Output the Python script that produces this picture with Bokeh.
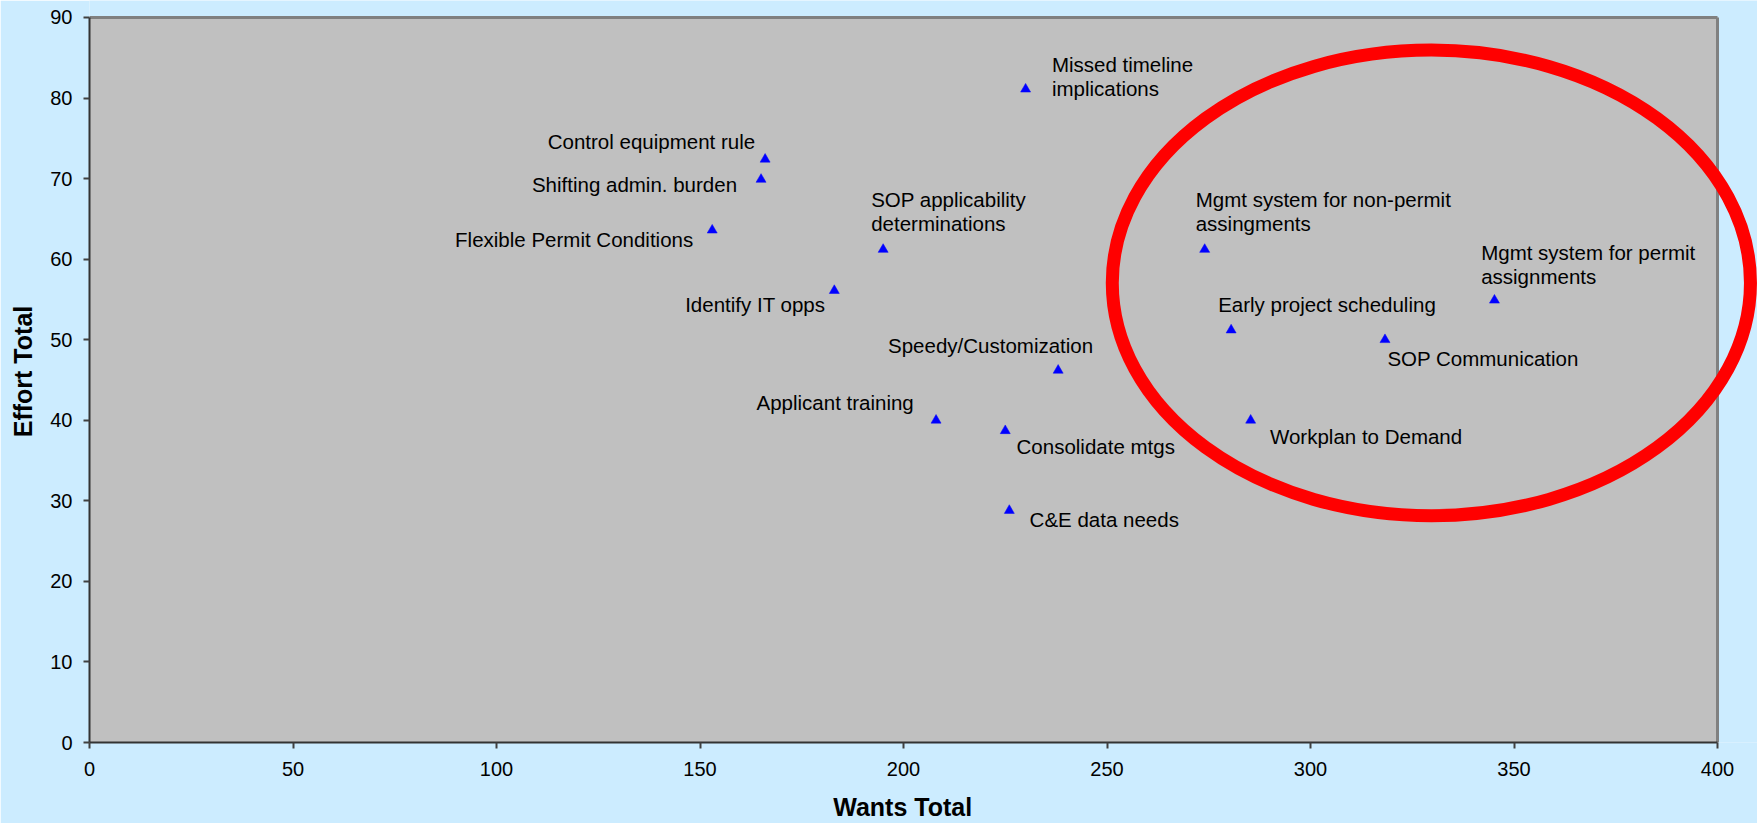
from bokeh.plotting import figure
from bokeh.models import Range1d, FixedTicker, ColumnDataSource
from bokeh.embed import file_html
from bokeh.resources import INLINE
from bokeh.core.properties import value, field

# ---------------- data ----------------
labels = [
    "Control equipment rule",
    "Shifting admin. burden",
    "Flexible Permit Conditions",
    "Identify IT opps",
    "SOP applicability\ndeterminations",
    "Missed timeline\nimplications",
    "Speedy/Customization",
    "Applicant training",
    "Consolidate mtgs",
    "C&E data needs",
    "Mgmt system for non-permit\nassingments",
    "Early project scheduling",
    "SOP Communication",
    "Mgmt system for permit\nassignments",
    "Workplan to Demand",
]
wants = [166, 165, 153, 183, 195, 230, 238, 208, 225, 226, 274, 280.5, 318.3, 345.2, 285.3]
effort = [72.4, 69.9, 63.6, 56.1, 61.2, 81.1, 46.2, 40.0, 38.7, 28.8, 61.2, 51.2, 50.0, 54.9, 40.0]

x_ticks = [0, 50, 100, 150, 200, 250, 300, 350, 400]
y_ticks = [0, 10, 20, 30, 40, 50, 60, 70, 80, 90]
x_title = "Wants Total"
y_title = "Effort Total"

# highlighted region (ellipse), in data units
highlight_x = 329.7
highlight_y = 57.05
highlight_w = 156.8
highlight_h = 57.8

# ---------------- label layout (pixels, style only) ----------------
# (align, dx, dy of first baseline)
label_layout = [
    ("right", -10, -10),
    ("right", -24, 13),
    ("right", -19, 17.7),
    ("right", -9, 22),
    ("left", -12, -42),
    ("left", 26.3, -16.7),
    ("right", 35, -17),
    ("right", -22.3, -9.7),
    ("left", 11.3, 23.7),
    ("left", 20.3, 16.7),
    ("left", -9, -42),
    ("left", -13, -17.3),
    ("left", 2.4, 26.7),
    ("left", -13.3, -40),
    ("left", 19.3, 24),
]
LINE_H = 24.4
BASELINE_FIX = -8

# ---------------- geometry ----------------
W, H = 1757, 823
LEFT, BOTTOM = 89, 80
frame_w = W - LEFT
frame_h = H - BOTTOM
x_max, y_max = x_ticks[-1], y_ticks[-1]
px_x = 1628.0 / x_max
px_y = 726.0 / y_max
x_end = frame_w / px_x
y_end = frame_h / px_y

BG = "#CCECFF"
PLOT_BG = "#C0C0C0"
FONT = "Liberation Sans"
NBSP = "\u00a0"

p = figure(width=W, height=H, output_backend="svg", toolbar_location=None,
           x_range=Range1d(0, x_end), y_range=Range1d(0, y_end),
           min_border_left=LEFT, min_border_right=0, min_border_top=0,
           min_border_bottom=BOTTOM, title=None)
p.background_fill_color = BG
p.border_fill_color = BG
p.outline_line_color = None
p.xgrid.visible = False
p.ygrid.visible = False

# plot area
p.quad(left=0, right=x_max, bottom=0, top=y_max, fill_color=PLOT_BG, line_color=None)
p.segment(x0=[0, x_max], y0=[y_max, 0], x1=[x_max, x_max], y1=[y_max, y_max],
          line_color="#808080", line_width=3)

# axes (x title padded so that it centres on the 0-400 plot area, not the wider frame)
for ax, ticks, standoff, title, t_standoff in (
        (p.xaxis[0], x_ticks, 13, x_title + NBSP * 6, 14),
        (p.yaxis[0], y_ticks, 11, y_title, 10)):
    ax.ticker = FixedTicker(ticks=ticks)
    ax.bounds = (ticks[0], ticks[-1])
    ax.major_label_text_font = FONT
    ax.major_label_text_font_size = "20px"
    ax.major_label_text_color = "#000000"
    ax.major_label_standoff = standoff
    ax.major_tick_out = 6
    ax.major_tick_in = 0
    ax.major_tick_line_color = "#404040"
    ax.major_tick_line_width = 2
    ax.minor_tick_line_color = None
    ax.axis_line_color = "#333333"
    ax.axis_line_width = 2
    ax.axis_label = title
    ax.axis_label_text_font = FONT
    ax.axis_label_text_font_size = "25px"
    ax.axis_label_text_font_style = "bold"
    ax.axis_label_text_color = "#000000"
    ax.axis_label_standoff = t_standoff

# points
p.scatter(wants, effort, marker="triangle", size=10,
          fill_color="#0000FF", line_color="#0000FF", line_width=0.5)

# point labels
tx, ty, tt, ta, txo, tyo = [], [], [], [], [], []
for lab, xv, yv, (al, dx, dy) in zip(labels, wants, effort, label_layout):
    for k, line in enumerate(lab.split("\n")):
        tx.append(xv)
        ty.append(yv)
        tt.append(line)
        ta.append(al)
        txo.append(dx)
        tyo.append(dy + k * LINE_H + BASELINE_FIX)
src = ColumnDataSource(dict(x=tx, y=ty, text=tt, align=ta, xo=txo, yo=tyo))
p.text(x="x", y="y", text="text", source=src, text_align=field("align"),
       x_offset="xo", y_offset="yo", text_baseline="alphabetic",
       text_font=value(FONT), text_font_size="20.5px", text_color="#000000")

# highlight ellipse
p.ellipse(x=[highlight_x], y=[highlight_y], width=[highlight_w], height=[highlight_h],
          fill_color=None, line_color="#FF0000", line_width=13)

open("out.html", "w").write(file_html(p, INLINE))
